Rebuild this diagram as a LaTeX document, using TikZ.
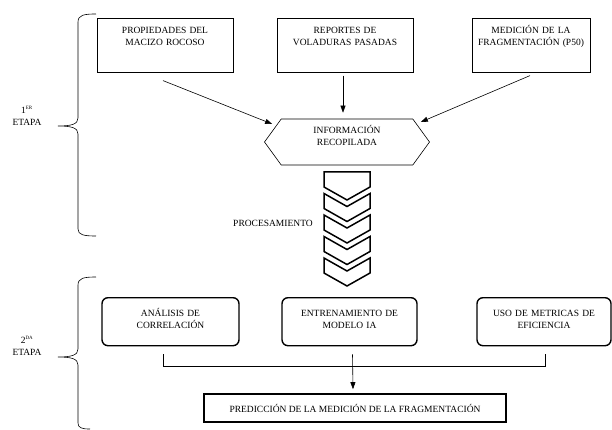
\documentclass[tikz,border=0pt]{standalone}
\usepackage{fontspec}
\setmainfont{Liberation Serif}
\usetikzlibrary{shapes.symbols,arrows.meta}

\tikzset{
	fuente/.style={draw, line width=0.6pt, text width=128pt, align=center, inner sep=4pt, text height=11pt, text depth=35pt, anchor=north},
	modulo/.style={draw, line width=1.4pt, rounded corners=6pt, text width=127pt, align=center, inner sep=4pt, text height=15pt, text depth=25pt, anchor=north},
	flecha/.style={line width=0.6pt, -{Triangle[length=7pt,width=5pt]}},
	chevron/.style={line width=1.5pt, line join=miter},
	llave/.style={line width=0.6pt},
}

\begin{document}
\begin{tikzpicture}[x=1pt, y=-1pt, every node/.style={font=\fontsize{9.5}{12}\selectfont}]
	\useasboundingbox (0,0) rectangle (612,430);

	% primera etapa
	\node[fuente] (m1) at (165,18) {PROPIEDADES DEL\\MACIZO ROCOSO};
	\node[fuente] (m2) at (345,18) {REPORTES DE\\VOLADURAS PASADAS};
	\node[fuente, text width=110pt] (m3) at (531,18) {MEDICIÓN DE LA\\FRAGMENTACIÓN (P50)};

	\node[draw, line width=0.6pt, shape=signal, signal to=east and west, signal pointer angle=108, minimum width=165pt, minimum height=46pt, text width=100pt, align=center, text height=9pt, text depth=26pt] (info) at (347,142) {INFORMACIÓN\\RECOPILADA};

	\draw[flecha] ([xshift=-2pt,yshift=-8pt]m1.south) -- ([xshift=8pt,yshift=18pt]info.west);
	\draw[flecha] ([xshift=-2pt,yshift=-3pt]m2.south) -- ([xshift=-4pt,yshift=6pt]info.north);
	\draw[flecha] ([xshift=-1pt,yshift=-3pt]m3.south) -- ([xshift=-9pt,yshift=20pt]info.east);

	\draw[chevron] (324,172) -- (370,172) -- (370,187) -- (347,200) -- (324,187) -- cycle;
	\foreach \t in {193.5,215,236.5,258}
		\draw[chevron] (324,\t) -- (347,\t+13) -- (370,\t) -- (370,\t+15) -- (347,\t+28) -- (324,\t+15) -- cycle;
	\node (proc) at (273,223) {PROCESAMIENTO};

	% segunda etapa
	\node[modulo, text width=129pt] (a1) at (170.5,297) {ANÁLISIS DE\\CORRELACIÓN};
	\node[modulo] (a2) at (349.5,297) {ENTRENAMIENTO DE\\MODELO IA};
	\node[modulo, text width=126pt] (a3) at (544,297) {USO DE METRICAS DE\\EFICIENCIA};

	\node[draw, line width=1.6pt, minimum width=302pt, minimum height=28pt, inner sep=0pt] (pred) at (355,408) {PREDICCIÓN DE LA MEDICIÓN DE LA FRAGMENTACIÓN};

	\draw[line width=0.6pt] ([xshift=-7pt,yshift=-8pt]a1.south) -- ++(0,12) -| ([xshift=1pt,yshift=-8pt]a3.south);
	\draw[flecha] ([xshift=3pt,yshift=-8pt]a2.south) -- ([xshift=-2pt,yshift=4pt]pred.north);

	% llaves
	\draw[llave] (96,14) .. controls (84,14) and (78,15) .. (78,22) -- (78,118) .. controls (78,124) and (72,126) .. (58,126) .. controls (72,126) and (78,128) .. (78,134) -- (78,229) .. controls (78,235) and (84,236) .. (96,236);
	\draw[llave] (96,277) .. controls (84,277) and (78,278) .. (78,285) -- (78,349) .. controls (78,355) and (72,357) .. (58,357) .. controls (72,357) and (78,359) .. (78,365) -- (78,423) .. controls (78,428) and (82,429) .. (90,429);
	\node[align=center] (e1) at (27,116) {1\textsuperscript{\tiny ER}\\ETAPA};
	\node[align=center] (e2) at (27,346) {2\textsuperscript{\tiny DA}\\ETAPA};
\end{tikzpicture}
\end{document}
